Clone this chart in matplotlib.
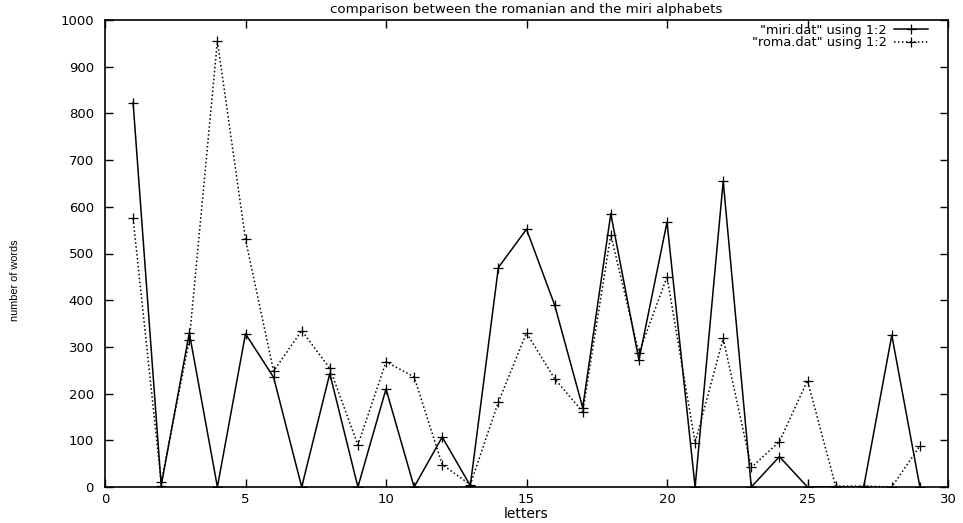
import matplotlib
matplotlib.use("Agg")
import matplotlib.pyplot as plt

letters = list(range(1, 30))
miri = [823, 3, 330, 0, 328, 235, 0, 243, 0, 210, 0, 107, 3, 470, 552, 390, 170,
        585, 272, 567, 0, 655, 0, 65, 0, 0, 0, 325, 0]
roma = [575, 10, 315, 955, 530, 248, 335, 254, 90, 268, 236, 48, 5, 182, 330, 232, 161,
        540, 287, 450, 95, 318, 42, 97, 228, 2, 2, 0, 88]

title = "comparison between the romanian and the miri alphabets"
xlabel = "letters"
ylabel = "number of words"
label_miri = '"miri.dat" using 1:2'
label_roma = '"roma.dat" using 1:2'

plt.rcParams['font.family'] = ['DejaVu Sans']

fig = plt.figure(figsize=(9.63, 5.23), dpi=100)
ax = fig.add_axes([105/963, 1-487/523, (948-105)/963, (487-20)/523])

ax.plot(letters, miri, color='black', lw=1.1, marker='+', ms=6.5, mew=0.9,
        label=label_miri)
ax.plot(letters, roma, color='black', lw=1.1, ls=(0, (1, 1.6)), marker='+', ms=6.5,
        mew=0.9, label=label_roma)

ax.set_xlim(0, 30)
ax.set_ylim(0, 1000)
ax.set_xticks(range(0, 31, 5))
ax.set_yticks(range(0, 1001, 100))
ax.tick_params(direction='in', top=True, right=True, length=6, width=1,
               labelsize=9.5)
ax.tick_params(axis='y', pad=8)
ax.tick_params(axis='x', pad=4)
for s in ax.spines.values():
    s.set_linewidth(1.2)

ax.set_title(title, fontsize=9.6, pad=5)
ax.set_xlabel(xlabel, fontsize=10, labelpad=1)
ax.set_ylabel(ylabel, fontsize=7.8, family=['Liberation Sans', 'DejaVu Sans'])
ax.yaxis.set_label_coords(-0.101, 0.443)

leg = ax.legend(loc='upper right', bbox_to_anchor=(0.976, 0.992), frameon=False,
                markerfirst=False, fontsize=9.3, handlelength=2.6,
                borderaxespad=0, borderpad=0, handletextpad=0.6,
                labelspacing=-0.05)

fig.savefig("out.png", dpi=100)
